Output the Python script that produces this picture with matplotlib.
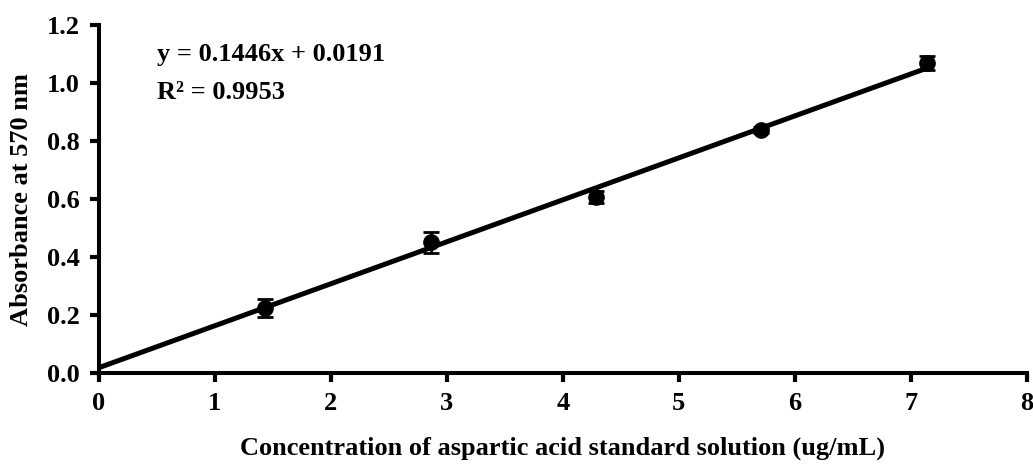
import matplotlib
matplotlib.use("Agg")
import matplotlib.pyplot as plt
import numpy as np

conc = [1.43, 2.86, 4.29, 5.71, 7.14]
absorb = [0.224, 0.452, 0.607, 0.838, 1.070]
err = [0.031, 0.036, 0.020, 0.010, 0.025]
slope = 0.1446
intercept = 0.0191
x_ticks = [0, 1, 2, 3, 4, 5, 6, 7, 8]
y_ticks = [0.0, 0.2, 0.4, 0.6, 0.8, 1.0, 1.2]

plt.rcParams['font.family'] = ['Liberation Serif', 'DejaVu Serif']
plt.rcParams['font.weight'] = 'bold'

FS = 19

fig = plt.figure(figsize=(10.33, 4.73), dpi=100)
ax = fig.add_axes([0.0958, 0.211, 0.898, 0.736])

xl = np.array([0, conc[-1]])
ax.plot(xl, slope * xl + intercept, color='black', lw=3.6, zorder=2)
ax.errorbar(conc, absorb, yerr=err, fmt='o', color='black', ms=11,
            capsize=6, elinewidth=2, capthick=2, zorder=3)

ax.set_xlim(0, 8)
ax.set_ylim(0, 1.2)
ax.set_xticks(x_ticks)
ax.set_yticks(y_ticks)
ax.set_xticklabels([str(t) for t in x_ticks], fontsize=FS, fontweight='bold')
ax.set_yticklabels([f"{t:.1f}" for t in y_ticks], fontsize=FS, fontweight='bold')
ax.tick_params(axis='both', direction='out', length=6.5, width=3, pad=7)
for s in ['top', 'right']:
    ax.spines[s].set_visible(False)
for s in ['left', 'bottom']:
    ax.spines[s].set_linewidth(2.9)

ax.set_xlabel('Concentration of aspartic acid standard solution (ug/mL)',
              fontsize=FS, fontweight='bold', va='center')
ax.xaxis.set_label_coords(0.5, -0.215)
ax.set_ylabel('Absorbance at 570 nm', fontsize=FS, fontweight='bold', va='center')
ax.yaxis.set_label_coords(-0.083, 0.5)

ax.text(0.5, 1.097, 'y = 0.1446x + 0.0191', fontsize=FS, fontweight='bold',
        va='center', ha='left')
ax.text(0.5, 0.969, 'R\u00b2 = 0.9953', fontsize=FS, fontweight='bold',
        va='center', ha='left')

fig.savefig('out.png', dpi=100)
